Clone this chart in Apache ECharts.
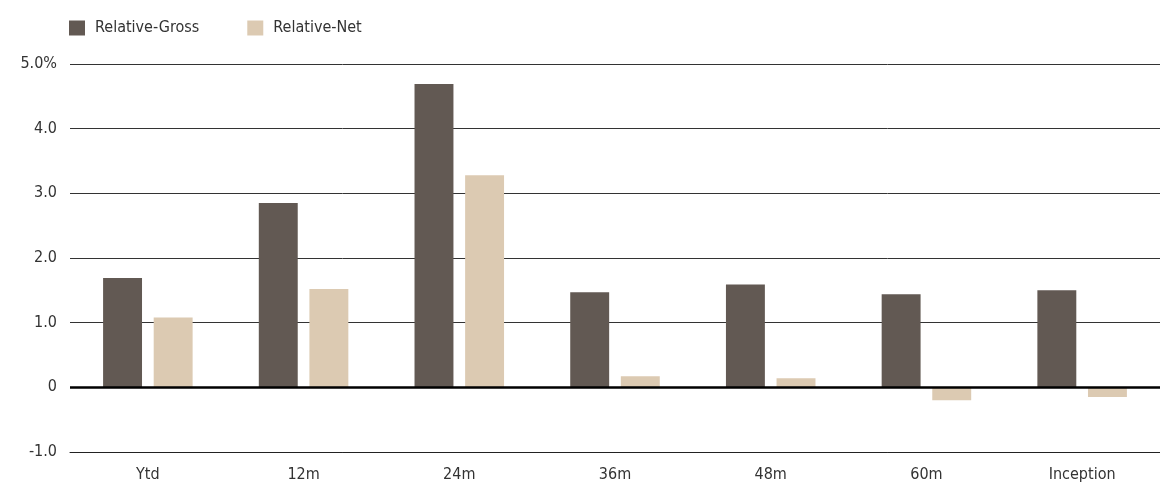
<!DOCTYPE html>
<html><head><meta charset="utf-8">
<script src="https://cdn.jsdelivr.net/npm/echarts@6/dist/echarts.min.js"></script>
<style>html,body{margin:0;padding:0;background:#fff}#c{width:1160px;height:485px}</style>
</head><body><div id="c"></div>
<script>
var categories = ['Ytd', '12m', '24m', '36m', '48m', '60m', 'Inception'];
var grossValues = [1.69, 2.85, 4.69, 1.47, 1.59, 1.44, 1.50];
var netValues = [1.08, 1.52, 3.28, 0.17, 0.14, -0.20, -0.15];
var seriesNames = ['Relative-Gross', 'Relative-Net'];
var FONT = '"Liberation Sans Narrow", "DejaVu Sans Condensed", sans-serif';
var chart = echarts.init(document.getElementById('c'), null, {renderer: 'canvas'});
chart.setOption({
  animation: false,
  textStyle: {fontFamily: FONT},
  legend: {
    left: 64, top: 15, itemWidth: 16, itemHeight: 15, itemGap: 48, icon: 'rect',
    textStyle: {fontFamily: FONT, fontSize: 16, color: '#333', padding: [0, 0, 0, 5]},
    data: seriesNames
  },
  grid: {left: 70, right: 0, top: 64, bottom: 33, containLabel: false},
  xAxis: {
    type: 'category', data: categories,
    axisLine: {onZero: false, lineStyle: {color: '#222', width: 1}},
    axisTick: {show: false},
    axisLabel: {fontFamily: FONT, fontSize: 16, color: '#333', margin: 15}
  },
  yAxis: {
    type: 'value', min: -1, max: 5, interval: 1,
    axisLine: {show: false}, axisTick: {show: false},
    splitLine: {lineStyle: {color: '#333', width: 1}},
    axisLabel: {
      fontFamily: FONT, fontSize: 16, color: '#333', margin: 13,
      formatter: function (v) { return v === 0 ? '0' : (v === 5 ? v.toFixed(1) + '%' : v.toFixed(1)); }
    }
  },
  series: [
    {name: seriesNames[0], type: 'bar', data: grossValues, barWidth: '25%', barGap: '30%',
     itemStyle: {color: '#625953'},
     markLine: {silent: true, symbol: 'none', label: {show: false},
       lineStyle: {color: '#000', width: 2.5, type: 'solid'}, data: [{yAxis: 0}], z: 10}},
    {name: seriesNames[1], type: 'bar', data: netValues, barWidth: '25%',
     itemStyle: {color: '#dccab2'}}
  ]
});
</script></body></html>
